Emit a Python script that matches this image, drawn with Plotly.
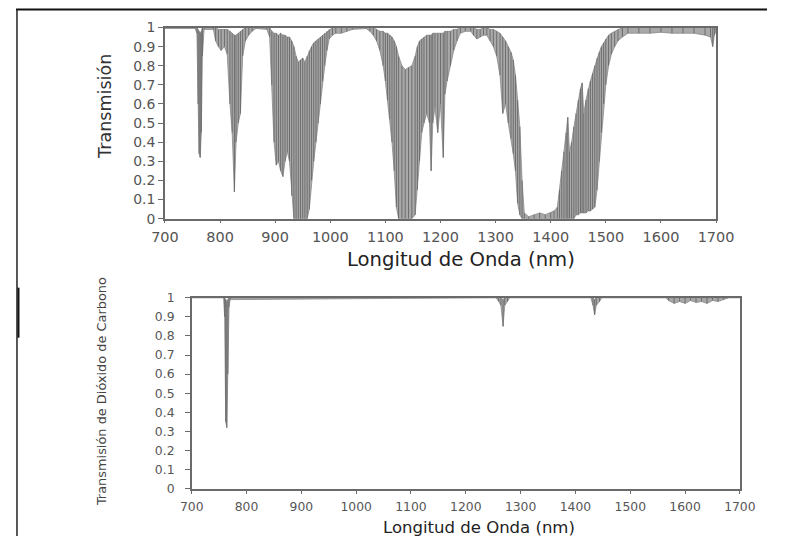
import plotly.graph_objects as go

# ---------------- Data ----------------
# Top panel: atmospheric transmission. For each wavelength: lower and upper envelope of the dense spectrum
top_wl = [700, 755, 758, 760, 762, 764, 766, 768, 771, 788, 792, 797, 802, 808, 813, 818, 822, 826, 829, 833,
          837, 841, 846, 852, 858, 865, 885, 890, 894, 898, 902, 906, 910, 914, 918, 922, 926, 930, 934, 938,
          942, 946, 950, 954, 958, 962, 966, 970, 974, 978, 982, 986, 990, 994, 998, 1004, 1010, 1020, 1030, 1040,
          1065, 1072, 1078, 1084, 1090, 1096, 1100, 1104, 1108, 1112, 1116, 1120, 1124, 1130, 1136, 1142, 1148, 1154, 1158, 1162,
          1166, 1170, 1175, 1180, 1183, 1186, 1190, 1195, 1200, 1205, 1208, 1212, 1218, 1224, 1230, 1236, 1245, 1255, 1260, 1266,
          1272, 1278, 1284, 1290, 1296, 1302, 1308, 1313, 1318, 1323, 1328, 1332, 1336, 1340, 1344, 1348, 1352, 1360, 1370, 1380,
          1390, 1400, 1406, 1412, 1416, 1420, 1424, 1428, 1431, 1434, 1438, 1442, 1446, 1450, 1454, 1457, 1460, 1464, 1468, 1472,
          1476, 1480, 1484, 1488, 1492, 1496, 1500, 1505, 1510, 1516, 1522, 1530, 1540, 1560, 1580, 1600, 1620, 1640, 1660, 1680,
          1690, 1694, 1697, 1700]
top_lo = [0.995, 0.995, 0.97, 0.60, 0.34, 0.32, 0.45, 0.85, 0.99, 0.99, 0.93, 0.90, 0.88, 0.90, 0.86, 0.60, 0.45, 0.14, 0.40, 0.50,
          0.55, 0.85, 0.93, 0.96, 0.98, 0.995, 0.99, 0.95, 0.70, 0.40, 0.28, 0.30, 0.25, 0.22, 0.30, 0.35, 0.30, 0.12, 0.0, 0.0,
          0.0, 0.0, 0.0, 0.0, 0.0, 0.05, 0.20, 0.30, 0.40, 0.50, 0.60, 0.72, 0.80, 0.88, 0.94, 0.96, 0.97, 0.97, 0.98, 0.99,
          0.995, 0.98, 0.96, 0.93, 0.88, 0.80, 0.72, 0.62, 0.52, 0.40, 0.25, 0.06, 0.0, 0.0, 0.0, 0.0, 0.0, 0.02, 0.15, 0.30,
          0.45, 0.50, 0.55, 0.50, 0.25, 0.50, 0.58, 0.45, 0.60, 0.32, 0.65, 0.72, 0.80, 0.88, 0.93, 0.97, 0.98, 0.98, 0.96, 0.94,
          0.95, 0.96, 0.96, 0.93, 0.90, 0.85, 0.75, 0.55, 0.60, 0.50, 0.42, 0.34, 0.25, 0.08, 0.02, 0.0, 0.0, 0.0, 0.0, 0.0,
          0.0, 0.0, 0.0, 0.0, 0.0, 0.0, 0.0, 0.0, 0.0, 0.0, 0.0, 0.0, 0.02, 0.02, 0.03, 0.03, 0.03, 0.03, 0.04, 0.04,
          0.05, 0.06, 0.15, 0.30, 0.45, 0.60, 0.70, 0.80, 0.86, 0.90, 0.93, 0.95, 0.97, 0.97, 0.97, 0.975, 0.97, 0.97, 0.97, 0.96,
          0.95, 0.90, 0.96, 0.98]
top_hi = [1.0, 1.0, 1.0, 0.99, 0.98, 0.97, 0.98, 1.0, 1.0, 1.0, 1.0, 0.99, 0.99, 0.99, 0.99, 0.98, 0.97, 0.96, 0.96, 0.97,
          0.98, 0.99, 1.0, 1.0, 1.0, 1.0, 1.0, 1.0, 0.98, 0.97, 0.97, 0.96, 0.97, 0.96, 0.96, 0.95, 0.95, 0.93, 0.90, 0.85,
          0.82, 0.83, 0.84, 0.82, 0.85, 0.88, 0.90, 0.92, 0.93, 0.94, 0.95, 0.96, 0.97, 0.98, 0.99, 1.0, 1.0, 1.0, 1.0, 1.0,
          1.0, 1.0, 1.0, 0.99, 0.98, 0.98, 0.97, 0.97, 0.96, 0.95, 0.93, 0.90, 0.85, 0.80, 0.78, 0.79, 0.80, 0.85, 0.90, 0.93,
          0.94, 0.95, 0.96, 0.96, 0.96, 0.97, 0.97, 0.97, 0.97, 0.97, 0.98, 0.98, 0.98, 0.99, 0.99, 1.0, 1.0, 1.0, 1.0, 0.99,
          0.99, 1.0, 1.0, 0.99, 0.99, 0.98, 0.97, 0.95, 0.93, 0.90, 0.87, 0.83, 0.75, 0.62, 0.48, 0.20, 0.03, 0.01, 0.02, 0.03,
          0.02, 0.03, 0.04, 0.06, 0.15, 0.25, 0.35, 0.45, 0.53, 0.35, 0.40, 0.48, 0.55, 0.62, 0.68, 0.71, 0.55, 0.62, 0.68, 0.72,
          0.76, 0.80, 0.84, 0.87, 0.90, 0.92, 0.94, 0.96, 0.97, 0.98, 0.99, 1.0, 1.0, 1.0, 1.0, 1.0, 1.0, 1.0, 1.0, 1.0,
          1.0, 1.0, 1.0, 1.0]

# Bottom panel: carbon-dioxide transmission
co2_wl = [700, 758, 760, 762, 764, 766, 768, 770, 1255, 1260, 1264, 1268, 1271, 1276, 1280, 1428, 1432, 1435, 1438, 1444,
          1448, 1565, 1570, 1580, 1590, 1600, 1610, 1620, 1630, 1640, 1650, 1660, 1670, 1680, 1700]
co2_lo = [1.0, 1.0, 0.90, 0.35, 0.32, 0.60, 0.95, 0.99, 1.0, 0.98, 0.96, 0.85, 0.96, 0.98, 1.0, 1.0, 0.96, 0.91, 0.96, 0.98,
          1.0, 1.0, 0.985, 0.97, 0.98, 0.97, 0.985, 0.975, 0.98, 0.97, 0.985, 0.98, 0.99, 1.0, 1.0]
co2_hi = [1.0, 1.0, 1.0, 0.99, 0.98, 0.99, 1.0, 1.0, 1.0, 1.0, 1.0, 0.99, 1.0, 1.0, 1.0, 1.0, 1.0, 0.99, 1.0, 1.0,
          1.0, 1.0, 1.0, 1.0, 1.0, 1.0, 1.0, 1.0, 1.0, 1.0, 1.0, 1.0, 1.0, 1.0, 1.0]

x_ticks = [700, 800, 900, 1000, 1100, 1200, 1300, 1400, 1500, 1600, 1700]
y_ticks = [0, 0.1, 0.2, 0.3, 0.4, 0.5, 0.6, 0.7, 0.8, 0.9, 1]
y_tick_text = ["0", "0.1", "0.2", "0.3", "0.4", "0.5", "0.6", "0.7", "0.8", "0.9", "1"]

TOP_Y_TITLE = "Transmisión"
BOT_Y_TITLE = "Transmisión de Dióxido de Carbono"
X_TITLE = "Longitud de Onda (nm)"

# ---------------- Figure ----------------
W, H = 785, 544
# the photographed page shows the figure slightly scaled and offset; compensate
SX, OX = 0.966, 10.0
SY, OY = 0.970, 7.5
S = (SX + SY) / 2
FONT = "DejaVu Sans"
fig = go.Figure()


def fs(size):
    return size / S


def add_spectrum(wl, lo, hi, xa, ya):
    fig.add_trace(go.Scatter(x=wl, y=hi, mode="lines", line=dict(color="#8a8a8a", width=0.8),
                             xaxis=xa, yaxis=ya, showlegend=False, hoverinfo="skip"))
    fig.add_trace(go.Scatter(x=wl, y=lo, mode="lines", line=dict(color="#8a8a8a", width=0.8),
                             fill="tonexty", fillcolor="#a9a9a9",
                             xaxis=xa, yaxis=ya, showlegend=False, hoverinfo="skip"))
    sx, sy = [], []
    for w, a, b in zip(wl, lo, hi):
        sx += [w, w, None]
        sy += [a, b, None]
    fig.add_trace(go.Scatter(x=sx, y=sy, mode="lines", line=dict(color="#666666", width=0.9),
                             xaxis=xa, yaxis=ya, showlegend=False, hoverinfo="skip", connectgaps=False))


add_spectrum(top_wl, top_lo, top_hi, "x", "y")
add_spectrum(co2_wl, co2_lo, co2_hi, "x2", "y2")


def px_x(p):
    # target picture pixel -> paper fraction
    return ((p - OX) / SX) / W


def px_y(p):
    return 1 - ((p - OY) / SY) / H


axis_common = dict(showgrid=False, zeroline=False, showline=True, linecolor="#6a6a6a", linewidth=1.5,
                   mirror=True, ticks="outside", tickcolor="#6a6a6a", tickwidth=1)

fig.update_layout(
    width=W, height=H, margin=dict(l=0, r=0, t=0, b=0, pad=0), autosize=False,
    paper_bgcolor="white", plot_bgcolor="white",
    font=dict(family=FONT, color="#555555"),
    xaxis=dict(domain=[px_x(162), px_x(717)], range=[700, 1700], tickvals=x_ticks, ticklen=3,
               tickfont=dict(size=fs(14), color="#555555"), anchor="y", ticklabelstandoff=1, **axis_common),
    yaxis=dict(domain=[px_y(218), px_y(27)], range=[0, 1], tickvals=y_ticks, ticktext=y_tick_text, ticklen=5,
               tickfont=dict(size=fs(13.5), color="#555555"), anchor="x", **axis_common),
    xaxis2=dict(domain=[px_x(189), px_x(741)], range=[700, 1700], tickvals=x_ticks, ticklen=3,
                tickfont=dict(size=fs(12), color="#555555"), anchor="y2", ticklabelstandoff=3, **axis_common),
    yaxis2=dict(domain=[px_y(488), px_y(297)], range=[0, 1], tickvals=y_ticks, ticktext=y_tick_text, ticklen=5,
                tickfont=dict(size=fs(12), color="#555555"), anchor="x2", ticklabelstandoff=8, **axis_common),
)

ann = [
    dict(text=TOP_Y_TITLE, x=px_x(101), y=px_y(106), textangle=-90, font=dict(size=fs(17), color="#333333")),
    dict(text=X_TITLE, x=px_x(460), y=px_y(259), font=dict(size=fs(19), color="#222222")),
    dict(text=BOT_Y_TITLE, x=px_x(98), y=px_y(391), textangle=-90, font=dict(size=fs(12.5), color="#444444")),
    dict(text=X_TITLE, x=px_x(478), y=px_y(527), font=dict(size=fs(16), color="#222222")),
]
for a in ann:
    fig.add_annotation(xref="paper", yref="paper", showarrow=False, xanchor="center", yanchor="middle",
                       font_family=FONT, **a)

# page frame lines of the scanned figure
fig.add_shape(type="line", xref="paper", yref="paper", x0=px_x(12), x1=1, y0=px_y(9), y1=px_y(9),
              line=dict(color="#111111", width=2))
fig.add_shape(type="line", xref="paper", yref="paper", x0=px_x(13), x1=px_x(13), y0=px_y(9), y1=0,
              line=dict(color="#222222", width=1.5))
fig.add_shape(type="line", xref="paper", yref="paper", x0=px_x(14.5), x1=px_x(14.5), y0=px_y(287), y1=px_y(337),
              line=dict(color="#111111", width=2))

fig.write_html("out.html")
